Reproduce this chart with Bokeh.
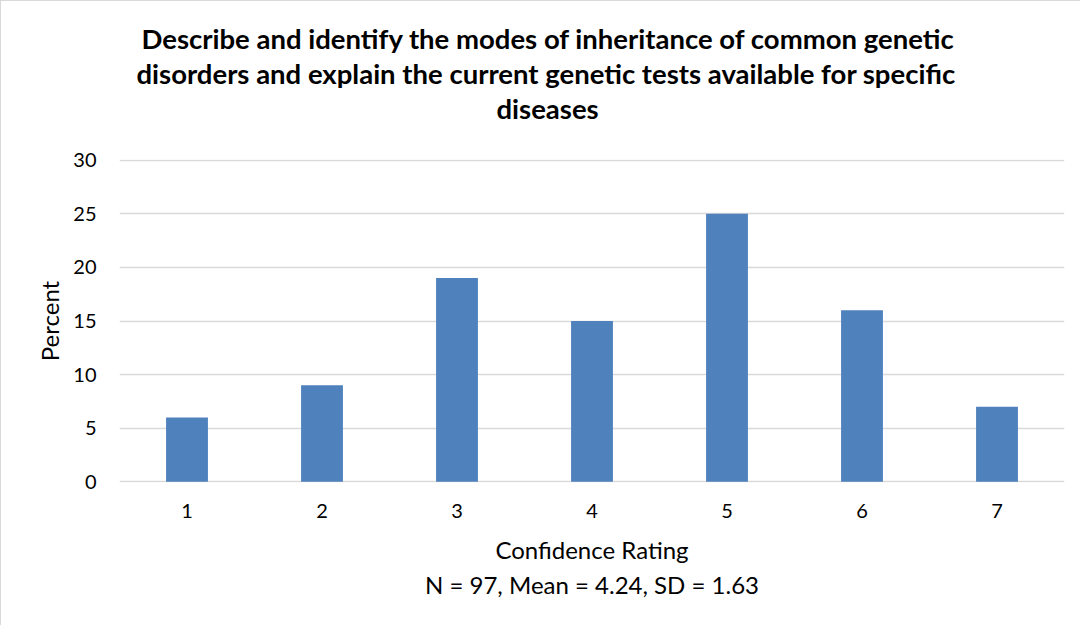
from bokeh.plotting import figure
from bokeh.models import FactorRange, Range1d, ColumnDataSource, FixedTicker, Title
from bokeh.embed import file_html
from bokeh.resources import INLINE

categories = ["1", "2", "3", "4", "5", "6", "7"]
percent = [6, 9, 19, 15, 25, 16, 7]
y_ticks = [0, 5, 10, 15, 20, 25, 30]
title_lines = [
    "Describe and identify the modes of inheritance of common genetic",
    "disorders and explain the current genetic tests available for specific",
    "diseases",
]
title_offsets = [22, 17, 377]
x_label = "Confidence Rating"
x_sub = "N = 97, Mean = 4.24, SD = 1.63"
y_label = "Percent"

FONT = "Lato"

p = figure(
    width=1080, height=625,
    x_range=FactorRange(factors=categories, range_padding=0),
    y_range=Range1d(-0.06, 30.06),
    output_backend="svg", toolbar_location=None,
    min_border_left=118, min_border_right=17, min_border_top=158, min_border_bottom=144,
)
p.styles = {"border-left": "1px solid #d9d9d9", "border-top": "1px solid #d9d9d9"}

src = ColumnDataSource(dict(x=categories, top=percent))
p.vbar(x="x", top="top", width=0.31, source=src, color="#4f81bd", line_color=None)

p.outline_line_color = None
p.xgrid.grid_line_color = None
p.ygrid.grid_line_color = "#d9d9d9"
p.ygrid.grid_line_width = 1.3
p.yaxis.ticker = FixedTicker(ticks=y_ticks)

for ax in (p.xaxis, p.yaxis):
    ax.axis_line_color = None
    ax.major_tick_line_color = None
    ax.minor_tick_line_color = None
    ax.major_label_text_font = FONT
    ax.major_label_text_font_size = "20px"
    ax.major_label_text_color = "#000000"
    ax.axis_label_text_font = FONT
    ax.axis_label_text_font_size = "24px"
    ax.axis_label_text_font_style = "normal"
    ax.axis_label_text_color = "#000000"
p.yaxis.major_label_standoff = 17
p.xaxis.major_label_standoff = 15
p.xaxis.axis_label = x_label
p.xaxis.axis_label_standoff = 14
p.yaxis.axis_label = y_label
p.yaxis.axis_label_standoff = 6

# spacer between frame and title
p.add_layout(Title(text=" ", text_font_size="1px", standoff=32), "above")
# title lines, innermost first
for line, off in reversed(list(zip(title_lines, title_offsets))):
    p.add_layout(Title(text=line, align="left", offset=off, text_font=FONT,
                       text_font_style="bold", text_font_size="27.5px",
                       text_color="#000000", standoff=0), "above")

p.add_layout(Title(text=x_sub, align="center", text_font=FONT, text_font_style="normal",
                   text_font_size="24px", text_color="#000000", standoff=3), "below")

open("out.html", "w").write(file_html(p, INLINE))
